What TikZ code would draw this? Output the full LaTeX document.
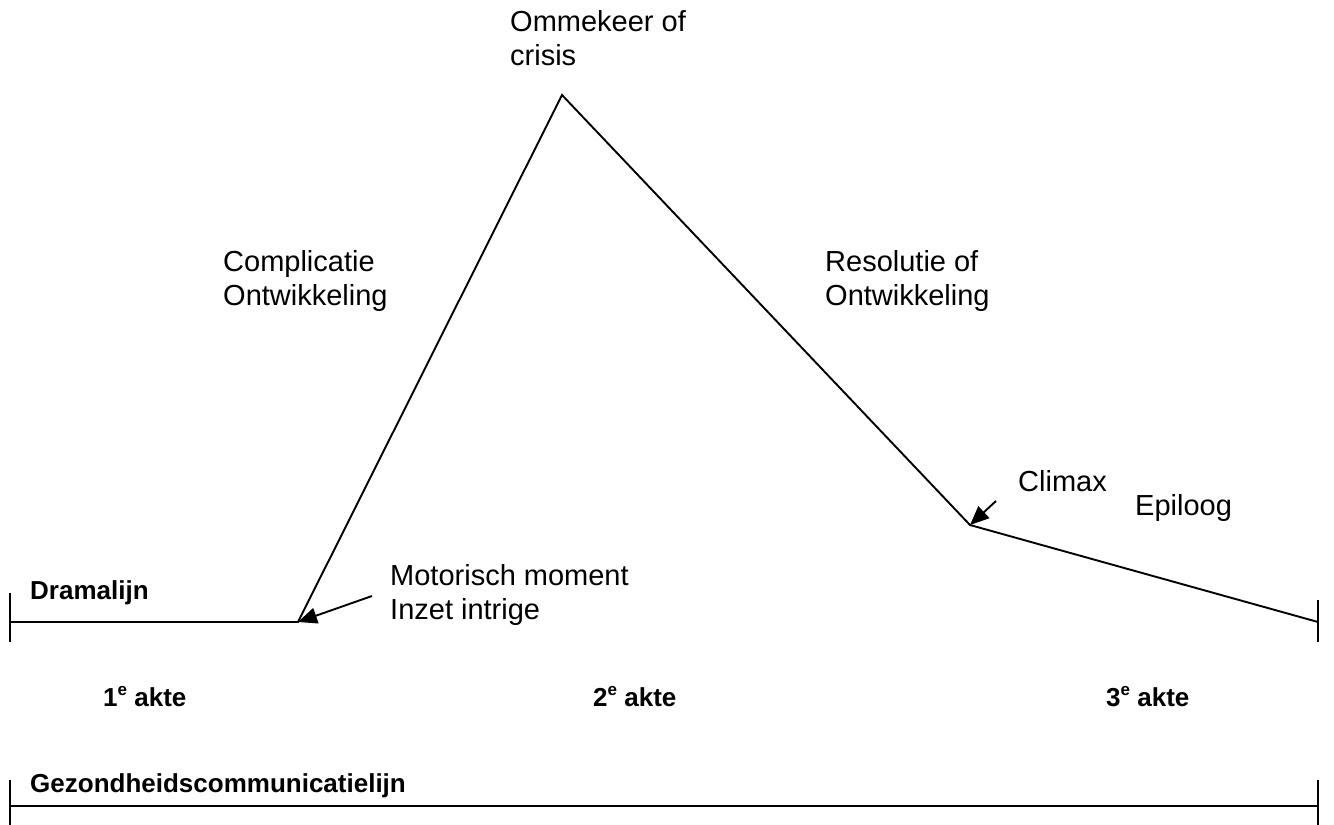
\documentclass[tikz,border=0pt]{standalone}
\usepackage{fontspec}
\setmainfont{Liberation Sans}
\usetikzlibrary{arrows.meta}
\tikzset{
  lbl/.style={anchor=west, inner sep=0pt, align=left, font=\fontsize{29}{34}\selectfont},
  bold/.style={anchor=west, inner sep=0pt, font=\fontsize{26}{30}\selectfont\bfseries},
  act/.style={anchor=west, inner sep=0pt, font=\fontsize{26}{30}\selectfont\bfseries},
  ln/.style={line width=1.9pt},
  pointer/.style={line width=1.9pt, -{Triangle[length=19pt,width=16pt]}},
}
\newcommand{\actsup}[1]{#1\raisebox{11pt}{\fontsize{17}{17}\selectfont e}}
\begin{document}
\begin{tikzpicture}[x=1pt, y=-1pt]
  \useasboundingbox (0,0) rectangle (1334,825);

  % points of the drama line
  \coordinate (start) at (10,622);
  \coordinate (motor) at (298,622);
  \coordinate (peak) at (562,95);
  \coordinate (climax) at (970,525);
  \coordinate (end) at (1318,622);

  % drama line with its end ticks
  \draw[ln] (start) -- (motor) -- (peak) -- (climax) -- (end);
  \coordinate (ltA) at (10,593);
  \coordinate (ltB) at (10,642);
  \coordinate (rtA) at (1318,600);
  \coordinate (rtB) at (1318,642);
  \draw[ln] (ltA) -- (ltB);
  \draw[ln] (rtA) -- (rtB);

  % health communication line
  \coordinate (hA) at (10,806);
  \coordinate (hB) at (1318,806);
  \coordinate (hlA) at (10,780);
  \coordinate (hlB) at (10,825);
  \coordinate (hrA) at (1318,780);
  \coordinate (hrB) at (1318,825);
  \draw[ln] (hA) -- (hB);
  \draw[ln] (hlA) -- (hlB);
  \draw[ln] (hrA) -- (hrB);

  % labels along the drama line
  \node[lbl] (crisis) at (510,38) {Ommekeer of\\crisis};
  \node[lbl] (compl) at (223,281) {Complicatie\\Ontwikkeling};
  \node[lbl] (resol) at (825,281) {Resolutie of\\Ontwikkeling};
  \node[lbl] (climaxlbl) at (1018,481) {Climax};
  \node[lbl] (epiloog) at (1135,508) {Epiloog};
  \node[lbl] (motorlbl) at (390,595) {Motorisch moment\\Inzet intrige};
  \node[bold] (drama) at (30,593) {Dramalijn};
  \node[bold] (gezond) at (30,786) {Gezondheidscommunicatielijn};

  % acts
  \node[act] (act1) at (103,697) {\actsup{1} akte};
  \node[act] (act2) at (593,697) {\actsup{2} akte};
  \node[act] (act3) at (1106,697) {\actsup{3} akte};

  % pointers
  \coordinate (motorfrom) at (372,596);
  \coordinate (climaxfrom) at (996,501);
  \draw[pointer] (motorfrom) -- (motor);
  \draw[pointer] (climaxfrom) -- (climax);
\end{tikzpicture}
\end{document}
